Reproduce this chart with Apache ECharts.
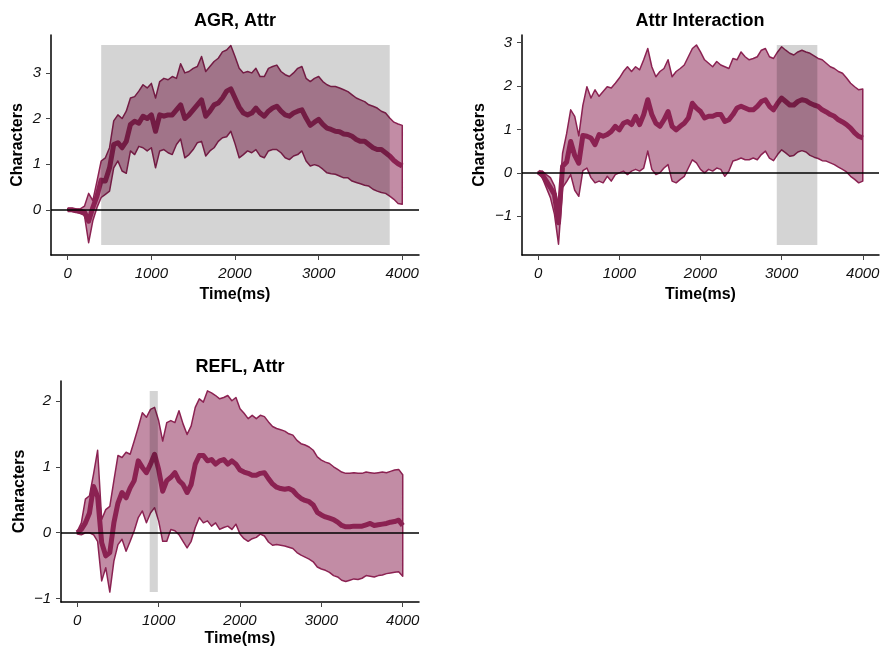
<!DOCTYPE html>
<html>
<head>
<meta charset="utf-8">
<title>Attr effects</title>
<script src="https://cdn.jsdelivr.net/npm/echarts@6/dist/echarts.min.js"></script>
<style>
  html, body { margin: 0; padding: 0; background: #fff; }
  #main { width: 885px; height: 646px; }
</style>
</head>
<body>
<div id="main"></div>
<script>
// time axis (ms), shared by the three panels
var timeMs = [0,50,100,150,200,250,300,350,400,450,500,550,600,650,700,750,800,850,900,950,
  1000,1050,1100,1150,1200,1250,1300,1350,1400,1450,1500,1550,1600,1650,1700,1750,1800,1850,1900,1950,
  2000,2050,2100,2150,2200,2250,2300,2350,2400,2450,2500,2550,2600,2650,2700,2750,2800,2850,2900,2950,
  3000,3050,3100,3150,3200,3250,3300,3350,3400,3450,3500,3550,3600,3650,3700,3750,3800,3850,3900,3950,4000];

// AGR, Attr
var agrMean = [0.0,0.0,-0.02,-0.03,-0.05,-0.25,0.05,0.3,0.65,0.63,0.92,1.43,1.47,1.36,1.5,1.87,1.94,1.9,2.05,2.0,
  2.08,1.72,2.08,2.05,2.08,2.08,2.19,2.3,2.0,2.08,2.19,2.3,2.41,2.05,2.16,2.3,2.34,2.45,2.6,2.65,
  2.45,2.25,2.12,2.08,2.12,2.23,2.12,2.05,2.16,2.23,2.27,2.16,2.08,2.05,2.12,2.16,2.19,2.01,1.85,1.92,
  1.98,1.87,1.79,1.76,1.72,1.71,1.66,1.65,1.61,1.54,1.5,1.5,1.43,1.36,1.32,1.32,1.25,1.18,1.08,1.01,0.96];
var agrUpper = [0.03,0.03,0.02,0.02,0.08,0.36,0.2,0.63,1.07,1.14,1.36,1.95,2.08,2.0,2.16,2.45,2.48,2.6,2.74,2.67,
  2.77,2.45,2.81,2.88,2.85,2.92,2.88,3.2,3.0,3.03,3.1,3.14,3.36,3.03,3.14,3.25,3.32,3.46,3.5,3.6,
  3.36,3.1,3.0,3.03,3.0,3.1,2.92,2.92,3.1,3.14,3.17,3.03,2.96,2.92,3.0,3.1,3.14,2.88,2.81,2.88,
  2.92,2.81,2.74,2.7,2.7,2.67,2.63,2.59,2.52,2.45,2.41,2.37,2.3,2.27,2.23,2.16,2.12,2.01,1.92,1.88,1.85];
var agrLower = [-0.02,-0.03,-0.05,-0.08,-0.12,-0.72,-0.24,0.05,0.27,0.34,0.41,0.92,1.07,0.85,0.8,1.29,1.21,1.39,1.36,1.29,
  1.36,0.92,1.29,1.32,1.25,1.21,1.43,1.55,1.14,1.21,1.32,1.47,1.5,1.18,1.29,1.36,1.5,1.58,1.6,1.72,
  1.45,1.14,1.21,1.29,1.25,1.32,1.18,1.14,1.29,1.32,1.32,1.25,1.14,1.1,1.18,1.21,1.29,1.07,0.96,0.99,
  0.96,0.89,0.81,0.79,0.78,0.74,0.7,0.7,0.63,0.6,0.57,0.54,0.52,0.45,0.41,0.38,0.36,0.3,0.23,0.14,0.12];

// Attr Interaction
var intMean = [0.02,-0.04,-0.19,-0.34,-0.5,-1.15,0.15,0.25,0.72,0.4,0.22,0.86,0.84,0.8,0.65,0.88,0.84,0.88,0.95,1.07,
  0.99,1.14,1.18,1.11,1.3,1.11,1.34,1.68,1.34,1.14,1.07,1.22,1.41,1.07,0.99,1.07,1.14,1.26,1.6,1.49,
  1.41,1.26,1.3,1.3,1.34,1.34,1.18,1.22,1.34,1.49,1.53,1.49,1.45,1.45,1.53,1.64,1.68,1.53,1.45,1.6,
  1.72,1.64,1.56,1.56,1.64,1.68,1.66,1.6,1.56,1.53,1.45,1.4,1.34,1.3,1.22,1.17,1.11,1.03,0.92,0.84,0.8];
var intUpper = [0.03,0.04,-0.04,-0.11,-0.3,-0.8,0.45,0.9,1.45,1.3,0.85,1.55,1.98,1.72,1.91,1.76,1.87,1.98,1.95,2.06,
  2.18,2.33,2.44,2.33,2.44,2.37,2.6,2.86,2.44,2.21,2.33,2.4,2.6,2.21,2.33,2.4,2.48,2.67,2.86,2.94,
  2.78,2.6,2.52,2.44,2.56,2.48,2.44,2.4,2.63,2.6,2.78,2.67,2.6,2.63,2.67,2.82,2.86,2.67,2.63,2.78,
  2.9,2.82,2.75,2.71,2.78,2.82,2.78,2.75,2.69,2.63,2.6,2.52,2.44,2.4,2.33,2.29,2.18,2.06,1.98,1.91,1.93];
var intLower = [-0.02,-0.11,-0.34,-0.57,-0.95,-1.64,-0.34,-0.2,-0.04,-0.4,-0.54,0.05,0.11,-0.11,-0.23,-0.19,-0.23,-0.08,-0.19,-0.04,
  0.0,0.04,-0.04,0.04,0.08,0.04,0.11,0.5,0.08,-0.04,0.0,0.11,0.19,-0.19,-0.23,-0.15,-0.08,0.11,0.3,0.23,
  0.08,0.0,0.08,0.04,0.11,0.08,-0.08,0.04,0.27,0.3,0.34,0.3,0.3,0.34,0.3,0.42,0.5,0.34,0.28,0.42,
  0.53,0.46,0.38,0.4,0.48,0.51,0.48,0.4,0.36,0.33,0.28,0.27,0.23,0.19,0.13,0.08,0.02,-0.08,-0.15,-0.23,-0.19];

// REFL, Attr
var reflMean = [0.0,0.05,0.15,0.3,0.7,0.55,-0.15,-0.35,-0.3,0.15,0.45,0.61,0.53,0.68,0.79,1.09,0.99,0.91,1.04,1.19,
  0.96,0.63,0.79,0.84,0.91,0.79,0.73,0.61,0.73,1.04,1.17,1.17,1.09,1.11,1.04,1.09,1.11,1.04,1.09,1.04,
  0.95,0.92,0.9,0.87,0.87,0.9,0.91,0.82,0.74,0.69,0.67,0.66,0.67,0.64,0.57,0.52,0.49,0.47,0.42,0.31,
  0.27,0.24,0.22,0.2,0.16,0.11,0.09,0.09,0.1,0.1,0.1,0.12,0.14,0.11,0.12,0.13,0.14,0.16,0.17,0.19,0.11];
var reflUpper = [0.02,0.15,0.51,0.56,0.89,1.25,0.2,0.35,0.4,0.79,1.17,1.14,1.22,1.19,1.39,1.6,1.82,1.75,1.87,1.9,
  1.7,1.39,1.67,1.7,1.67,1.85,1.65,1.49,1.62,1.9,2.03,1.98,2.15,2.12,2.08,2.03,2.05,2.08,2.0,2.05,
  1.88,1.81,1.73,1.78,1.73,1.78,1.76,1.68,1.61,1.58,1.56,1.54,1.5,1.48,1.4,1.35,1.33,1.3,1.25,1.15,
  1.1,1.07,1.05,1.0,0.96,0.92,0.9,0.9,0.91,0.9,0.9,0.92,0.91,0.9,0.91,0.92,0.91,0.93,0.95,0.96,0.88];
var reflLower = [-0.02,-0.03,0.0,0.0,-0.03,-0.13,-0.73,-0.53,-0.9,-0.43,-0.18,-0.1,-0.28,-0.13,0.03,0.23,0.33,0.15,0.3,0.38,
  0.18,-0.13,-0.13,0.05,0.03,-0.03,-0.13,-0.23,-0.13,0.08,0.23,0.15,0.18,0.1,0.15,0.05,0.08,0.1,0.05,0.13,
  -0.02,-0.09,-0.13,-0.09,-0.07,-0.02,-0.05,-0.14,-0.19,-0.18,-0.19,-0.2,-0.22,-0.24,-0.3,-0.34,-0.37,-0.4,-0.44,-0.52,
  -0.55,-0.57,-0.6,-0.65,-0.67,-0.72,-0.74,-0.72,-0.7,-0.71,-0.69,-0.65,-0.66,-0.67,-0.65,-0.64,-0.62,-0.61,-0.6,-0.59,-0.66];

var panelTitles = ['AGR, Attr', 'Attr Interaction', 'REFL, Attr'];
var xTicks = [0, 1000, 2000, 3000, 4000];
var yTicks = [[0, 1, 2, 3], [-1, 0, 1, 2, 3], [-1, 0, 1, 2]];
// significant time windows (ms) and their vertical extent
var sigWindows = [[400, 3850], [2940, 3440], [890, 990]];
var sigHeights = [[-0.77, 3.61], [-1.66, 2.94], [-0.90, 2.15]];

var means = [agrMean, intMean, reflMean];
var uppers = [agrUpper, intUpper, reflUpper];
var lowers = [agrLower, intLower, reflLower];

// layout
var grids = [
  {left: 51, top: 35, width: 368, height: 220},
  {left: 522, top: 35, width: 357, height: 220},
  {left: 61, top: 381, width: 358, height: 221}
];
var yLimits = [[-0.99, 3.83], [-1.89, 3.17], [-1.05, 2.30]];
var yNameGaps = [25, 34, 33];
var xNameGaps = [32, 32, 29];
var titlePos = [[235, 12], [700, 12], [240, 358]];

var FONT = 'Liberation Sans';
var LINE = '#8B2252';
var FILL = 'rgba(139,34,82,0.52)';

var chart = echarts.init(document.getElementById('main'), null, {renderer: 'canvas'});

function bandItem(lower, upper) {
  return function (params, api) {
    if (params.dataIndex !== 0) return null;
    var pts = [];
    for (var i = 0; i < timeMs.length; i++) pts.push(api.coord([timeMs[i], upper[i]]));
    for (var j = timeMs.length - 1; j >= 0; j--) pts.push(api.coord([timeMs[j], lower[j]]));
    return {
      type: 'polygon',
      shape: {points: pts},
      style: {fill: FILL, stroke: LINE, lineWidth: 1.5, lineJoin: 'round'}
    };
  };
}

function rectItem(params, api) {
  var p0 = api.coord([api.value(0), api.value(3)]);
  var p1 = api.coord([api.value(2), api.value(1)]);
  return {
    type: 'rect',
    shape: {x: p0[0], y: p0[1], width: p1[0] - p0[0], height: p1[1] - p0[1]},
    style: {fill: 'rgba(0,0,0,0.17)'}
  };
}

function plainNum(v) {
  return String(v).replace('-', '\u2212');
}

var option = {
  animation: false,
  backgroundColor: '#fff',
  title: [],
  grid: [],
  xAxis: [],
  yAxis: [],
  series: []
};

for (var k = 0; k < 3; k++) {
  option.title.push({
    text: panelTitles[k],
    left: titlePos[k][0],
    top: titlePos[k][1],
    textAlign: 'center',
    padding: 0,
    textStyle: {fontFamily: FONT, fontSize: 18, fontWeight: 'bold', color: '#000'}
  });

  option.grid.push({
    left: grids[k].left, top: grids[k].top,
    width: grids[k].width, height: grids[k].height,
    outerBoundsMode: 'none', containLabel: false
  });

  option.xAxis.push({
    type: 'value',
    gridIndex: k,
    min: -200,
    max: 4200,
    name: 'Time(ms)',
    nameLocation: 'middle',
    nameGap: xNameGaps[k],
    nameTextStyle: {fontFamily: FONT, fontSize: 16, fontWeight: 'bold', color: '#000'},
    axisLine: {show: true, onZero: false, lineStyle: {color: '#000', width: 1.5}},
    axisTick: {show: true, length: 5, customValues: xTicks, lineStyle: {color: '#444', width: 1}},
    axisLabel: {customValues: xTicks, fontFamily: FONT, fontSize: 15, fontStyle: 'italic', color: '#111', margin: 11,
      formatter: plainNum},
    splitLine: {show: false}
  });

  option.yAxis.push({
    type: 'value',
    gridIndex: k,
    min: yLimits[k][0],
    max: yLimits[k][1],
    name: 'Characters',
    nameLocation: 'middle',
    nameGap: yNameGaps[k],
    nameTextStyle: {fontFamily: FONT, fontSize: 16, fontWeight: 'bold', color: '#000'},
    axisLine: {show: true, onZero: false, lineStyle: {color: '#000', width: 1.5}},
    axisTick: {show: true, length: 5, customValues: yTicks[k], lineStyle: {color: '#444', width: 1}},
    axisLabel: {
      customValues: yTicks[k], fontFamily: FONT, fontSize: 15, fontStyle: 'italic', color: '#111', margin: 10,
      formatter: plainNum
    },
    splitLine: {show: false}
  });

  // confidence ribbon
  option.series.push({
    type: 'custom',
    xAxisIndex: k, yAxisIndex: k,
    renderItem: bandItem(lowers[k], uppers[k]),
    data: [[timeMs[0], lowers[k][0]]],
    silent: true,
    z: 2
  });

  // mean trace
  option.series.push({
    type: 'line',
    xAxisIndex: k, yAxisIndex: k,
    data: timeMs.map(function (t, i) { return [t, means[k][i]]; }),
    showSymbol: false,
    symbol: 'none',
    lineStyle: {color: LINE, width: 5, join: 'round'},
    silent: true,
    z: 3
  });

  // zero reference
  option.series.push({
    type: 'line',
    xAxisIndex: k, yAxisIndex: k,
    data: [],
    silent: true,
    z: 5,
    markLine: {
      silent: true, symbol: 'none', animation: false,
      label: {show: false},
      lineStyle: {color: '#000', width: 1.6, type: 'solid'},
      data: [{yAxis: 0}]
    }
  });

  // significance window
  option.series.push({
    type: 'custom',
    xAxisIndex: k, yAxisIndex: k,
    renderItem: rectItem,
    encode: {x: [0, 2], y: [1, 3]},
    data: [[sigWindows[k][0], sigHeights[k][0], sigWindows[k][1], sigHeights[k][1]]],
    silent: true,
    z: 8
  });
}

chart.setOption(option);
</script>
</body>
</html>
